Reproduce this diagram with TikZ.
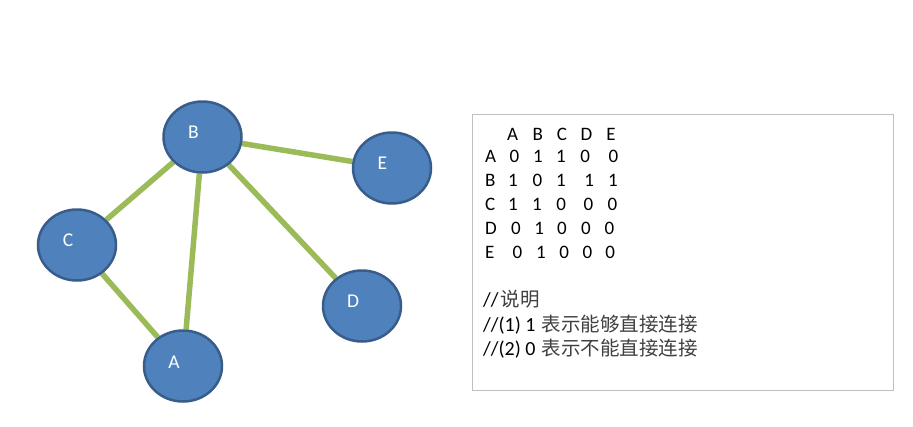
\documentclass[tikz,border=0pt]{standalone}
\usepackage{fontspec}
\setmainfont{Carlito}
\newfontfamily\cjk{Noto Sans CJK SC}
\usetikzlibrary{shapes.geometric,backgrounds}
\definecolor{nodefill}{HTML}{4F81BD}
\definecolor{nodeline}{HTML}{385D8A}
\definecolor{edgegreen}{HTML}{9BBB59}
\definecolor{boxline}{HTML}{BFBFBF}
\definecolor{cjkgray}{HTML}{404040}
\newcommand\cc[2]{\hspace{#1pt}\makebox[0pt]{#2}}
\newcommand\cjktxt[1]{{\cjk\fontsize{19.5}{21}\selectfont\color{cjkgray}#1}}
\begin{document}
\begin{tikzpicture}[x=1pt,y=-1pt,
  vtx/.style={ellipse,draw=nodeline,line width=2.5pt,fill=nodefill,minimum width=78pt,minimum height=71pt,inner sep=0pt},
  vlabel/.style={text=white,font=\fontsize{19.5}{21}\selectfont,inner sep=0pt},
  edge/.style={draw=edgegreen,line width=5.5pt},
  mtx/.style={anchor=base west,inner sep=0pt,font=\fontsize{19}{21}\selectfont},
  note/.style={anchor=base west,inner sep=0pt,font=\fontsize{20}{22}\selectfont}]
\useasboundingbox (0,0) rectangle (913,426);
% vertices
\node[vtx] (B) at (202.5,137) {};
\node[vtx] (E) at (392,168) {};
\node[vtx] (C) at (77,245) {};
\node[vtx] (D) at (362,306) {};
\node[vtx] (A) at (183,366) {};
% edges (behind)
\begin{pgfonlayer}{background}
\fill[white] (0,0) rectangle (913,426);
\draw[edge] (B) -- (E);
\draw[edge] (B) -- (C);
\draw[edge] (B) -- (A);
\draw[edge] (B) -- (D);
\draw[edge] (C) -- (A);
\end{pgfonlayer}
% labels
\node[vlabel] (lB) at (193.5,132) {B};
\node[vlabel] (lE) at (382.5,163) {E};
\node[vlabel] (lC) at (68,240) {C};
\node[vlabel] (lD) at (353,301) {D};
\node[vlabel] (lA) at (174,362) {A};
% box
\node[draw=boxline,line width=1pt,minimum width=421pt,minimum height=276pt,inner sep=0pt,anchor=north west] (box) at (472,114) {};
% matrix
\node[mtx] (h) at (485,140) {\cc{27.5}{A}\cc{25.2}{B}\cc{24.0}{C}\cc{24.6}{D}\cc{24.5}{E}};
\node[mtx] (rA) at (485,162.7) {\makebox[0pt][l]{A}\cc{29.2}{0}\cc{23.5}{1}\cc{23.0}{1}\cc{24.3}{0}\cc{28.3}{0}};
\node[mtx] (rB) at (485,186.7) {\makebox[0pt][l]{B}\cc{27.7}{1}\cc{24.6}{0}\cc{23.4}{1}\cc{28.3}{1}\cc{23.7}{1}};
\node[mtx] (rC) at (485,210.7) {\makebox[0pt][l]{C}\cc{27.7}{1}\cc{24.0}{1}\cc{24.3}{0}\cc{27.3}{0}\cc{24.0}{0}};
\node[mtx] (rD) at (485,234.3) {\makebox[0pt][l]{D}\cc{30.7}{0}\cc{23.3}{1}\cc{22.7}{0}\cc{24.0}{0}\cc{23.6}{0}};
\node[mtx] (rE) at (485,258.3) {\makebox[0pt][l]{E}\cc{32.3}{0}\cc{23.4}{1}\cc{23.3}{0}\cc{23.3}{0}\cc{22.7}{0}};
% notes
\node[note] (n0) at (483,306.7) {\makebox[17.5pt][l]{//}\cjktxt{说明}};
\node[note] (n1) at (483,331.5) {\makebox[58.5pt][l]{//(1) 1}\cjktxt{表示能够直接连接}};
\node[note] (n2) at (483,355.5) {\makebox[58.5pt][l]{//(2) 0}\cjktxt{表示不能直接连接}};
\end{tikzpicture}
\end{document}
